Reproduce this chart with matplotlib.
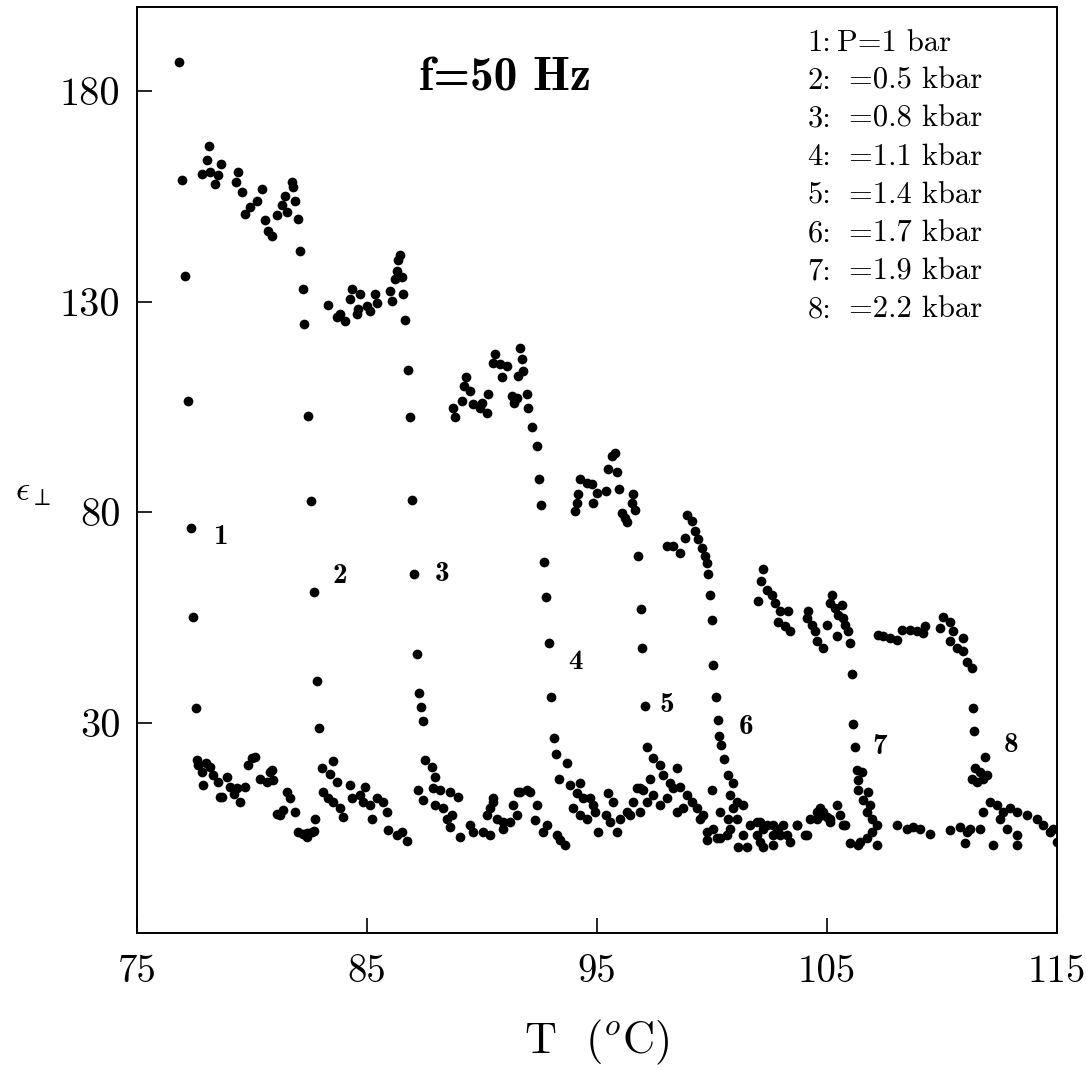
import numpy as np
import matplotlib
matplotlib.use("Agg")
import matplotlib.pyplot as plt

plt.rcParams['mathtext.fontset'] = 'cm'
plt.rcParams['axes.unicode_minus'] = False

# each curve: [T (C), eps_perp]
curve1 = np.array([
    [76.84, 187.0], [76.94, 159.0], [77.09, 136.2], [77.2, 106.3], [77.33, 76.3], [77.45, 55.2], [77.57, 33.4],
    [77.67, 19.9], [77.81, 18.3], [78.17, 19.5], [78.32, 17.5], [77.88, 15.2], [78.54, 16.0], [78.9, 17.1],
    [79.04, 14.8], [78.61, 12.4], [79.33, 14.4], [79.7, 14.8], [79.48, 11.2], [79.99, 21.5], [80.13, 21.9],
    [79.84, 19.9], [80.35, 16.7], [80.64, 16.0], [80.86, 18.7], [80.93, 16.4], [81.51, 13.6], [81.65, 12.0],
    [81.07, 8.4], [81.36, 9.2], [81.87, 8.8], [82.0, 4.0], [82.2, 3.5], [82.4, 3.8], [82.6, 3.9], [82.7, 4.3],
    [77.6, 21.0], [78.0, 20.5], [78.68, 12.4], [79.2, 13.0], [80.78, 18.3], [81.2, 8.0], [82.38, 2.9]])

curve2 = np.array([
    [78.13, 167.1], [78.03, 163.6], [78.64, 162.8], [77.81, 160.4], [78.17, 160.8], [78.39, 158.0], [78.54, 160.0],
    [79.4, 160.8], [79.3, 158.4], [79.55, 156.0], [80.42, 156.8], [80.2, 154.0], [79.91, 152.5], [79.7, 150.9],
    [80.57, 149.4], [80.71, 146.9], [80.86, 145.7], [81.07, 150.5], [81.29, 152.9], [81.43, 155.2], [81.73, 158.4],
    [81.8, 157.2], [81.87, 154.0], [81.51, 151.3], [82.01, 149.7], [82.09, 142.0], [82.2, 132.9], [82.27, 124.8],
    [82.45, 102.9], [82.57, 82.6], [82.68, 61.0], [82.81, 40.0], [82.91, 28.6], [82.74, 7.2], [83.03, 19.1],
    [83.54, 20.9], [83.39, 17.9], [83.68, 16.0], [83.1, 13.6], [83.32, 12.0], [83.54, 11.2], [83.83, 9.6],
    [83.97, 7.6], [84.26, 15.2], [84.33, 12.0], [84.7, 12.8], [84.91, 14.8], [84.84, 11.2], [85.13, 10.4],
    [85.42, 12.0], [85.2, 7.2], [85.71, 11.2], [85.86, 8.8], [85.93, 4.4], [86.29, 3.2], [86.73, 1.8], [86.51, 4.0]])

curve3 = np.array([
    [83.32, 129.3], [83.68, 126.3], [84.04, 125.5], [83.83, 127.1], [84.33, 133.0], [84.26, 130.6], [84.7, 131.8],
    [84.55, 127.1], [84.62, 128.3], [84.99, 129.0], [85.13, 127.9], [85.35, 131.8], [85.42, 129.8], [86.0, 132.6],
    [86.07, 130.2], [86.22, 135.4], [86.29, 137.4], [86.43, 141.0], [86.36, 139.8], [86.58, 131.8], [86.51, 135.8],
    [86.65, 125.6], [86.77, 113.8], [86.87, 102.6], [86.96, 82.9], [87.04, 65.4], [87.16, 46.3], [87.25, 37.1],
    [87.33, 33.6], [87.45, 30.4], [87.52, 21.1], [87.81, 19.5], [87.96, 17.1], [87.23, 14.0], [87.45, 11.6],
    [87.88, 14.4], [88.17, 14.0], [88.61, 13.6], [88.97, 12.4], [87.96, 10.4], [88.32, 9.6], [88.47, 7.2],
    [88.68, 8.0], [88.61, 5.2], [89.04, 2.9], [89.48, 5.6], [89.62, 4.0], [90.06, 4.0], [90.35, 3.2],
    [90.49, 12.0], [90.35, 9.6], [90.64, 7.2], [90.93, 4.8], [91.22, 6.4], [91.51, 8.0], [91.58, 13.6],
    [91.94, 14.0], [90.2, 8.0], [90.49, 11.2], [90.93, 6.4], [91.36, 10.4], [91.65, 13.6], [92.09, 13.6],
    [92.38, 10.4], [92.3, 6.8], [92.67, 4.0], [92.81, 5.6], [93.25, 3.2], [93.61, 0.8], [93.39, 2.0]])

curve4 = np.array([
    [88.75, 104.8], [88.83, 102.5], [89.12, 106.4], [89.3, 112.0], [89.48, 108.8], [89.62, 105.6], [89.91, 104.8],
    [90.2, 103.6], [90.27, 108.0], [90.57, 117.5], [90.49, 115.5], [90.78, 115.2], [90.85, 112.0], [91.07, 114.8],
    [91.29, 107.6], [91.51, 107.2], [91.65, 119.1], [91.72, 116.4], [91.58, 112.4], [91.8, 113.6], [91.94, 108.0],
    [92.01, 104.8], [89.2, 110.0], [90.0, 106.0], [91.4, 106.0], [92.16, 100.3], [92.38, 95.6], [92.48, 87.9],
    [92.58, 81.7], [92.68, 68.1], [92.8, 59.8], [92.9, 49.0], [92.99, 36.0], [93.13, 26.4], [93.22, 22.5],
    [93.68, 20.3], [93.36, 16.5], [93.83, 15.2], [94.26, 15.6], [94.12, 13.2], [94.41, 12.0], [94.7, 12.0],
    [94.84, 10.4], [93.97, 9.6], [94.26, 8.0], [94.55, 7.2], [94.91, 8.8], [95.06, 4.0], [95.49, 13.2],
    [95.71, 11.2], [95.41, 8.0], [95.57, 6.4], [95.86, 4.0], [96.0, 7.2], [96.29, 8.8], [96.58, 11.2],
    [96.72, 14.4], [97.01, 14.0], [96.43, 8.0]])

curve5 = np.array([
    [94.26, 87.8], [94.19, 84.4], [94.12, 82.2], [94.04, 80.2], [94.55, 87.0], [94.77, 86.6], [94.99, 84.6],
    [94.84, 82.2], [95.41, 85.1], [95.49, 90.2], [95.86, 89.5], [95.64, 93.3], [95.78, 94.1], [95.97, 85.6],
    [96.58, 84.2], [96.51, 82.2], [96.65, 80.6], [96.07, 79.8], [96.22, 78.6], [96.29, 77.7], [96.8, 69.6],
    [96.9, 57.1], [96.97, 47.7], [97.07, 34.0], [97.17, 24.3], [97.45, 21.5], [97.74, 19.9], [97.88, 17.5],
    [98.17, 15.6], [98.46, 19.1], [98.32, 14.4], [98.61, 14.8], [98.9, 12.8], [99.12, 11.2], [99.33, 9.6],
    [99.62, 8.0], [99.48, 7.2], [98.75, 9.6], [98.46, 8.8], [98.03, 12.0], [97.74, 10.4], [97.45, 12.8],
    [97.3, 16.7], [96.87, 14.4], [97.16, 11.2], [96.87, 8.8], [99.99, 14.0], [99.77, 4.0], [100.2, 2.5]])

curve6 = np.array([
    [98.03, 71.9], [98.32, 71.9], [98.61, 70.3], [98.83, 73.9], [98.9, 79.4], [99.12, 77.9], [99.26, 75.5],
    [99.4, 73.5], [99.55, 71.5], [99.7, 69.5], [99.77, 67.9], [99.84, 65.4], [99.91, 60.2], [99.99, 54.4],
    [100.06, 43.7], [100.16, 36.0], [100.25, 30.6], [100.32, 26.7], [100.38, 24.7], [100.5, 21.3],
    [100.71, 17.5], [100.93, 15.6], [100.78, 12.8], [101.07, 11.2], [101.36, 10.4], [100.93, 9.6], [100.35, 8.8],
    [100.71, 7.2], [100.06, 4.8], [100.35, 2.5], [99.77, 2.1], [100.64, 3.2], [101.14, 0.5], [101.5, 0.5],
    [101.94, 3.2], [102.09, 6.4], [102.38, 5.6], [102.67, 3.2], [102.23, 0.5], [102.88, 4.0], [100.78, 4.8],
    [101.07, 7.2], [101.36, 3.2], [101.65, 5.6], [101.94, 6.4], [102.23, 4.8], [102.67, 5.6], [102.96, 3.2],
    [103.39, 1.7], [103.68, 5.6], [103.25, 3.2], [103.1, 5.6], [102.81, 4.8], [102.09, 1.7], [102.67, 0.9],
    [104.12, 3.2], [104.26, 7.2], [104.55, 8.8], [104.77, 8.0], [105.13, 7.2], [105.42, 10.4], [105.57, 8.0],
    [105.78, 5.6], [104.04, 3.2], [104.55, 7.2], [104.84, 8.8], [105.13, 6.4], [105.71, 5.6], [104.7, 9.6],
    [104.99, 7.6], [103.68, 5.6]])

curve7 = np.array([
    [102.23, 66.6], [102.12, 63.6], [102.01, 58.8], [102.38, 61.6], [102.59, 60.4], [102.74, 58.4], [102.96, 56.4],
    [103.32, 56.4], [102.88, 54.0], [103.17, 52.9], [103.39, 51.7], [104.19, 56.4], [104.12, 54.8], [104.33, 53.3],
    [104.48, 51.7], [104.55, 49.3], [104.84, 47.7], [104.99, 53.3], [105.2, 60.4], [105.13, 58.4], [105.35, 57.2],
    [105.49, 55.6], [105.64, 58.0], [105.71, 54.8], [105.78, 53.3], [105.42, 50.6], [105.93, 51.7], [106.0, 48.9],
    [106.07, 41.5], [106.14, 29.6], [106.22, 24.3], [106.29, 18.7], [106.51, 18.3], [106.36, 16.4],
    [106.36, 14.0], [106.8, 13.6], [106.58, 11.6], [106.87, 10.4], [106.73, 8.8], [106.94, 7.2], [107.16, 5.6],
    [106.94, 4.0], [106.73, 2.5], [106.43, 1.7], [106.0, 1.3], [106.36, 0.9], [107.16, 0.9], [108.03, 5.6],
    [108.46, 4.8], [108.75, 5.2], [109.04, 4.8], [109.48, 3.6], [110.35, 4.4], [110.78, 5.2], [111.07, 4.0],
    [111.0, 1.3]])

curve8 = np.array([
    [107.23, 50.9], [107.45, 50.5], [107.74, 50.1], [108.03, 49.7], [108.25, 52.1], [108.61, 52.1], [108.9, 51.7],
    [109.19, 51.3], [109.26, 52.9], [109.91, 52.5], [110.06, 55.2], [110.35, 54.0], [110.49, 51.7], [110.35, 49.3],
    [110.64, 47.7], [110.93, 50.1], [110.93, 46.9], [111.07, 44.5], [111.29, 42.9], [111.36, 33.4], [111.39, 27.9],
    [111.87, 21.9], [111.43, 19.1], [111.65, 18.3], [111.8, 16.7], [111.51, 16.0], [111.94, 17.5], [111.29, 16.7],
    [112.09, 11.2], [112.38, 10.4], [111.8, 8.8], [112.67, 8.8], [112.96, 9.6], [113.25, 8.8], [113.68, 8.0],
    [114.12, 7.2], [114.41, 5.6], [114.7, 4.0], [114.84, 4.8], [112.52, 7.2], [112.81, 4.8], [113.25, 3.2],
    [112.23, 0.9], [113.25, 0.9], [114.99, 1.7], [111.65, 4.8], [111.22, 4.8]])

curves = [curve1, curve2, curve3, curve4, curve5, curve6, curve7, curve8]

# curve number labels (T, eps)
label_names = ["1", "2", "3", "4", "5", "6", "7", "8"]
label_T = [78.6, 83.8, 88.25, 94.05, 98.05, 101.5, 107.3, 113.0]
label_eps = [74.0, 64.8, 65.2, 44.5, 34.2, 29.0, 24.3, 24.7]

legend_nums = ["1:", "2:", "3:", "4:", "5:", "6:", "7:", "8:"]
legend_vals = ["P=1 bar", "=0.5 kbar", "=0.8 kbar", "=1.1 kbar", "=1.4 kbar", "=1.7 kbar", "=1.9 kbar", "=2.2 kbar"]

xticks = [75, 85, 95, 105, 115]
yticks = [30, 80, 130, 180]

fig = plt.figure(figsize=(10.86, 10.70), dpi=100)
ax = fig.add_axes([0.1262, 0.128, 0.8471, 0.8654])

for c in curves:
    ax.plot(c[:, 0], c[:, 1], 'o', color='black', markersize=7, markeredgewidth=0)

ax.set_xlim(75, 115)
ax.set_ylim(-20, 200)
ax.set_xticks(xticks)
ax.set_yticks(yticks)
ax.set_xticklabels([str(v) for v in xticks], fontfamily='cmr10', fontsize=28)
ax.set_yticklabels([str(v) for v in yticks], fontfamily='cmr10', fontsize=29)
ax.tick_params(direction='in', length=11, width=1.2, top=False, right=False)
ax.tick_params(axis='x', pad=15)
ax.tick_params(axis='y', pad=12)
for s in ax.spines.values():
    s.set_linewidth(1.4)

ax.set_xlabel(r'T  ($^{o}$C)', fontfamily='cmr10', fontsize=32, labelpad=20)
ax.text(-0.133, 0.477, r'$\epsilon_{\perp}$', transform=ax.transAxes, fontsize=25,
        ha='left', va='center')

ax.text(91.0, 183.0, 'f=50 Hz', fontfamily='cmb10', fontsize=34, ha='center', va='center')

for name, tx, ty in zip(label_names, label_T, label_eps):
    ax.text(tx, ty, name, fontfamily='cmb10', fontsize=21, ha='center', va='center')

for i, (n, v) in enumerate(zip(legend_nums, legend_vals)):
    ty = 191.5 - i * 9.05
    ax.text(104.15, ty, n, fontfamily='cmr10', fontsize=22, ha='left', va='center')
    vx = 105.45 if i == 0 else 105.95
    ax.text(vx, ty, v, fontfamily='cmr10', fontsize=22, ha='left', va='center')

fig.savefig('out.png', dpi=100)
